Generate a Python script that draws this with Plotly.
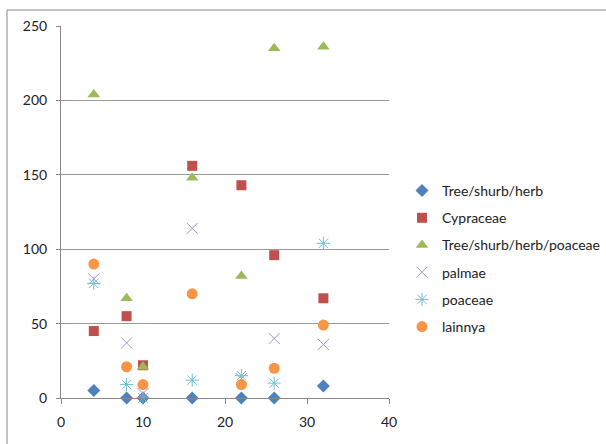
import plotly.graph_objects as go

depth = [4, 8, 10, 16, 22, 26, 32]
tree_shurb_herb = [5, 0, 0, 0, 0, 0, 8]
cypraceae = [45, 55, 22, 156, 143, 96, 67]
tree_shurb_herb_poaceae = [204, 67, 21, 148, 82, 235, 236]
palmae = [80, 37, 3, 114, 13, 40, 36]
poaceae = [77, 9, 0, 12, 15, 10, 104]
lainnya = [90, 21, 9, 70, 9, 20, 49]

series = [
    ("Tree/shurb/herb", tree_shurb_herb, "diamond", "#4F81BD", 10, 0),
    ("Cypraceae", cypraceae, "square", "#C0504D", 10, 0),
    ("Tree/shurb/herb/poaceae", tree_shurb_herb_poaceae, "triangle-up", "#9BBB59", 11, 0),
    ("palmae", palmae, "x-thin-open", "#A592C4", 11, 1),
    ("poaceae", poaceae, "asterisk-open", "#6CC0D6", 11, 1),
    ("lainnya", lainnya, "circle", "#F79646", 11, 0),
]

fig = go.Figure()
for i, (name, vals, sym, col, size, lw) in enumerate(series):
    marker = dict(symbol=sym, color=col, size=size)
    if lw:
        marker["line"] = dict(color=col, width=lw)
    else:
        marker["line"] = dict(width=0)
    fig.add_trace(go.Scatter(x=depth, y=vals, mode="markers", name=name,
                             marker=marker, legendgroup=str(i), cliponaxis=False))

L, R, T, B = 61, 389, 26, 398
W, H = 606, 444
pw, ph = R - L, B - T

fig.update_layout(
    width=W, height=H,
    margin=dict(l=L, r=W - R, t=T, b=H - B, autoexpand=False),
    paper_bgcolor="white", plot_bgcolor="white",
    font=dict(family="Lato, Carlito, sans-serif", size=14, color="#222"),
    showlegend=True,
    legend=dict(xref="container", yref="container",
                x=402 / W, xanchor="left", y=(H - 175) / H, yanchor="top",
                tracegroupgap=6, font=dict(size=14),
                bgcolor="rgba(0,0,0,0)"),
    xaxis=dict(range=[0, 40], tickvals=[0, 10, 20, 30, 40], showgrid=False,
               showline=True, linecolor="#888", linewidth=1,
               ticks="outside", ticklen=5, tickcolor="#888", zeroline=False,
               ticklabelstandoff=6, fixedrange=True),
    yaxis=dict(range=[0, 250], tickvals=[0, 50, 100, 150, 200, 250],
               showgrid=True, gridcolor="#999", gridwidth=1,
               showline=True, linecolor="#888", linewidth=1,
               ticks="outside", ticklen=4, tickcolor="#888", zeroline=False,
               ticklabelstandoff=6, fixedrange=True),
    shapes=[dict(type="rect", xref="paper", yref="paper",
                 x0=(7 - L) / pw, x1=(640 - L) / pw,
                 y0=(B - 480) / ph, y1=(B - 10) / ph,
                 line=dict(color="#888", width=1), fillcolor="rgba(0,0,0,0)",
                 layer="below")],
)

fig.write_html("out.html", config={"displayModeBar": False},
               post_script="document.body.style.margin='0';")
